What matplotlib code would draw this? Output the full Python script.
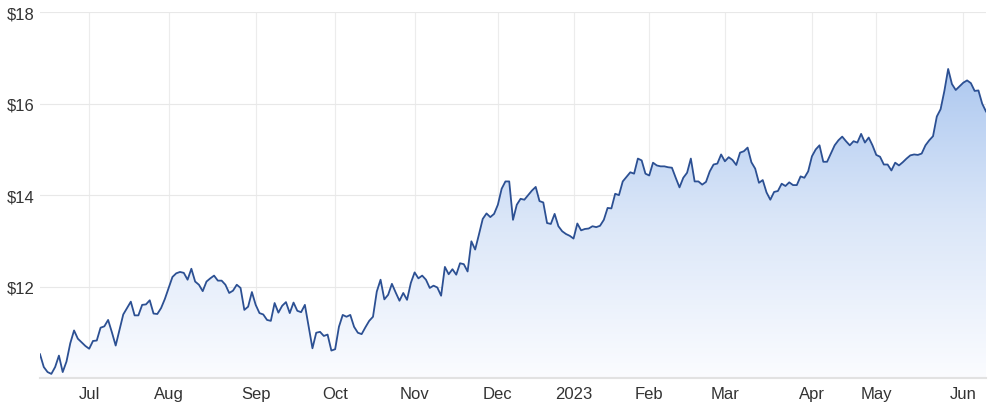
import numpy as np
import matplotlib.pyplot as plt
from matplotlib.colors import LinearSegmentedColormap

plt.rc('font', family=['Liberation Sans', 'DejaVu Sans'])

# daily closes, one per trading day (mid Jun 2022 -> early Jun 2023)
prices = [
    10.52, 10.24, 10.13, 10.09, 10.24, 10.49, 10.13, 10.36, 10.76, 11.04,
    10.86, 10.78, 10.70, 10.64, 10.81, 10.82, 11.10, 11.13, 11.27, 11.00,
    10.71, 11.05, 11.39, 11.53, 11.67, 11.37, 11.37, 11.60, 11.61, 11.70,
    11.41, 11.40, 11.53, 11.73, 11.97, 12.21, 12.29, 12.32, 12.30, 12.15,
    12.39, 12.11, 12.04, 11.90, 12.11, 12.18, 12.24, 12.13, 12.13, 12.04,
    11.86, 11.91, 12.04, 11.97, 11.49, 11.56, 11.88, 11.60, 11.42, 11.39,
    11.27, 11.25, 11.64, 11.43, 11.58, 11.66, 11.42, 11.65, 11.47, 11.44,
    11.60, 11.12, 10.65, 10.99, 11.01, 10.92, 10.95, 10.60, 10.63, 11.12,
    11.38, 11.34, 11.38, 11.12, 10.99, 10.96, 11.11, 11.25, 11.34, 11.89,
    12.15, 11.72, 11.82, 12.06, 11.87, 11.69, 11.86, 11.71, 12.08, 12.31,
    12.18, 12.24, 12.15, 11.97, 12.02, 11.98, 11.80, 12.43, 12.27, 12.38,
    12.26, 12.51, 12.49, 12.33, 12.99, 12.81, 13.14, 13.48, 13.60, 13.52,
    13.59, 13.79, 14.14, 14.30, 14.30, 13.46, 13.79, 13.92, 13.90, 14.00,
    14.10, 14.18, 13.87, 13.84, 13.39, 13.37, 13.59, 13.32, 13.21, 13.15,
    13.11, 13.05, 13.38, 13.23, 13.26, 13.27, 13.32, 13.30, 13.33, 13.46,
    13.72, 13.71, 14.03, 14.00, 14.30, 14.40, 14.50, 14.47, 14.80, 14.76,
    14.47, 14.43, 14.71, 14.65, 14.63, 14.63, 14.61, 14.60, 14.38, 14.17,
    14.38, 14.49, 14.80, 14.30, 14.30, 14.23, 14.29, 14.52, 14.67, 14.69,
    14.89, 14.74, 14.83, 14.77, 14.66, 14.93, 14.96, 15.04, 14.72, 14.58,
    14.27, 14.33, 14.06, 13.90, 14.07, 14.09, 14.25, 14.20, 14.28, 14.22,
    14.22, 14.41, 14.38, 14.52, 14.85, 15.00, 15.09, 14.73, 14.73, 14.91,
    15.09, 15.20, 15.28, 15.18, 15.09, 15.18, 15.15, 15.34, 15.15, 15.26,
    15.09, 14.88, 14.84, 14.67, 14.67, 14.54, 14.71, 14.65, 14.72, 14.80,
    14.87, 14.89, 14.88, 14.91, 15.09, 15.20, 15.29, 15.72, 15.88, 16.28,
    16.76, 16.43, 16.30, 16.38, 16.46, 16.51, 16.45, 16.28, 16.29, 16.00,
    15.83,
]

# first trading day of each month, as index into prices
month_pos = [13, 34, 57, 78, 99, 121, 141, 161, 181, 204, 221, 244]
month_labels = ['Jul', 'Aug', 'Sep', 'Oct', 'Nov', 'Dec', '2023',
                'Feb', 'Mar', 'Apr', 'May', 'Jun']
price_ticks = [12, 14, 16, 18]

x = np.arange(len(prices))
y = np.array(prices)

fig = plt.figure(figsize=(10, 4.1), dpi=100)
ax = fig.add_axes([0.04, 0.0756, 0.946, 0.892])

ymin, ymax = 10, 18
ax.set_xlim(0, len(prices) - 1)
ax.set_ylim(ymin, ymax)

# gradient area under the line
poly = ax.fill_between(x, y, ymin, facecolor='none', edgecolor='none')
cmap = LinearSegmentedColormap.from_list('area', ['#fbfcff', '#dae6f8', '#aac6ef'])
grad = np.linspace(0, 1, 256).reshape(-1, 1)
img = ax.imshow(grad, cmap=cmap, aspect='auto', origin='lower',
                extent=[0, len(prices) - 1, ymin, 17.0], zorder=1)
img.set_clip_path(poly.get_paths()[0], transform=ax.transData)

ax.plot(x, y, color='#2c5093', lw=1.3, zorder=3)

# grid
for p in month_pos:
    ax.axvline(p, color='#ececec', lw=0.8, zorder=0)
for t in price_ticks:
    ax.axhline(t, color='#e8e8e8', lw=0.8, zorder=0)

for s in ['top', 'right', 'left']:
    ax.spines[s].set_visible(False)
ax.spines['bottom'].set_color('#e2e2e2')
ax.spines['bottom'].set_linewidth(1.5)

ax.set_xticks(month_pos)
ax.set_xticklabels(month_labels)
ax.set_yticks(price_ticks)
ax.set_yticklabels(['$%d' % t for t in price_ticks])
ax.tick_params(axis='x', length=0, pad=6, labelsize=12, labelcolor='#333333')
ax.tick_params(axis='y', length=0, pad=24, labelsize=12, labelcolor='#333333')
for lab in ax.get_yticklabels():
    lab.set_horizontalalignment('left')

fig.savefig('out.png', dpi=100)
